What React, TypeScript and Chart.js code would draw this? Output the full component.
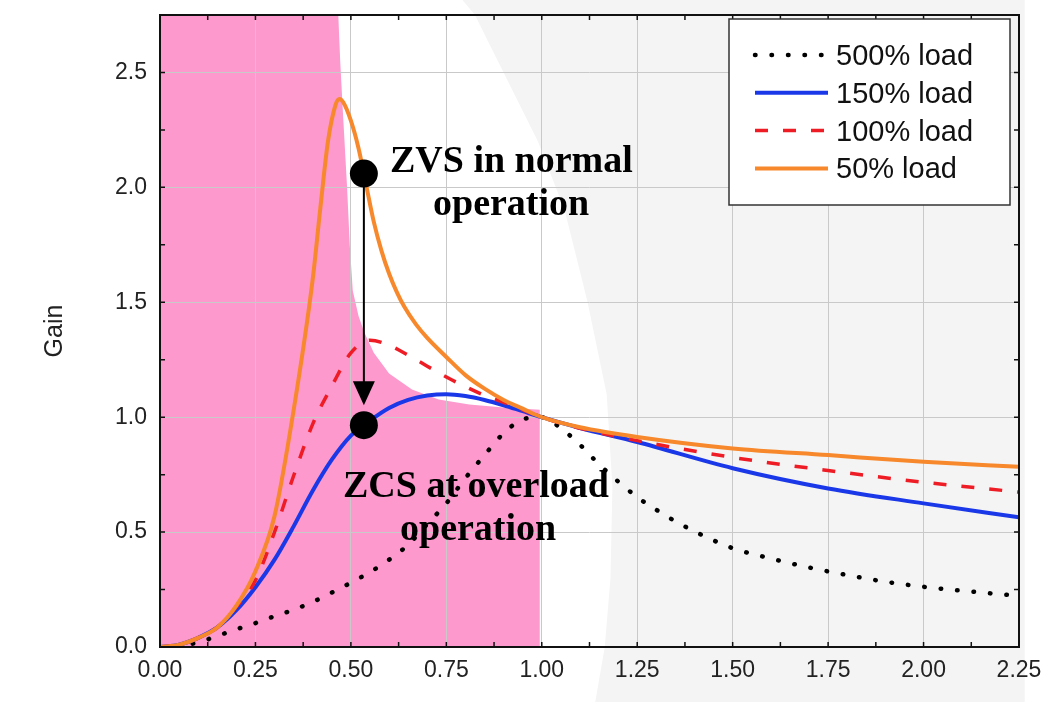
import React, { useEffect, useRef } from 'react';
import { Chart, registerables } from 'chart.js';

Chart.register(...registerables);

// ---- Data ----
// 500% load (black dotted)
const freq500 = [0, 0.05, 0.1, 0.15, 0.2, 0.25, 0.3, 0.35, 0.4, 0.45, 0.5, 0.55, 0.6, 0.65, 0.7, 0.75, 0.8, 0.85, 0.9, 0.95, 1.0, 1.05, 1.1, 1.15, 1.2, 1.25, 1.3, 1.35, 1.4, 1.5, 1.6, 1.7, 1.8, 1.9, 2.0, 2.1, 2.25];
const gain500 = [0, 0.005, 0.02, 0.048, 0.077, 0.104, 0.134, 0.162, 0.196, 0.237, 0.28, 0.326, 0.38, 0.445, 0.535, 0.625, 0.735, 0.835, 0.93, 0.99, 1.0, 0.952, 0.88, 0.795, 0.72, 0.652, 0.597, 0.547, 0.503, 0.43, 0.385, 0.346, 0.313, 0.284, 0.262, 0.245, 0.222];

// 150% load (blue solid)
const freq150 = [0, 0.05, 0.1, 0.15, 0.2, 0.25, 0.3, 0.35, 0.4, 0.45, 0.5, 0.55, 0.6, 0.65, 0.7, 0.75, 0.8, 0.85, 0.9, 0.95, 1.0, 1.1, 1.25, 1.5, 1.75, 2.0, 2.25];
const gain150 = [0, 0.01, 0.04, 0.085, 0.16, 0.26, 0.38, 0.525, 0.68, 0.815, 0.92, 0.985, 1.04, 1.075, 1.094, 1.1, 1.092, 1.075, 1.052, 1.026, 1.0, 0.953, 0.892, 0.778, 0.69, 0.625, 0.564];

// 100% load (red dashed)
const freq100 = [0, 0.05, 0.1, 0.15, 0.2, 0.25, 0.3, 0.35, 0.4, 0.45, 0.5, 0.55, 0.6, 0.65, 0.7, 0.75, 0.8, 0.85, 0.9, 0.95, 1.0, 1.1, 1.25, 1.5, 1.75, 2.0, 2.25];
const gain100 = [0, 0.01, 0.04, 0.085, 0.175, 0.29, 0.5, 0.745, 0.97, 1.135, 1.28, 1.335, 1.313, 1.27, 1.222, 1.175, 1.133, 1.095, 1.065, 1.032, 1.0, 0.952, 0.898, 0.825, 0.768, 0.717, 0.674];

// 50% load (orange solid)
const freq50 = [0, 0.05, 0.1, 0.15, 0.2, 0.25, 0.3, 0.35, 0.4, 0.42, 0.44, 0.46, 0.47, 0.48, 0.5, 0.52, 0.54, 0.56, 0.58, 0.6, 0.62, 0.64, 0.67, 0.7, 0.75, 0.8, 0.85, 0.9, 0.95, 1.0, 1.1, 1.25, 1.5, 1.75, 2.0, 2.25];
const gain50 = [0, 0.01, 0.04, 0.085, 0.18, 0.33, 0.57, 1.03, 1.6, 1.91, 2.2, 2.36, 2.385, 2.37, 2.29, 2.17, 2.01, 1.85, 1.725, 1.625, 1.545, 1.48, 1.405, 1.345, 1.262, 1.183, 1.124, 1.075, 1.037, 1.0, 0.956, 0.914, 0.864, 0.835, 0.806, 0.784];

// Pink region (ZCS region) boundary
const pinkX = [0, 0.467, 0.472, 0.48, 0.49, 0.497, 0.505, 0.52, 0.535, 0.56, 0.6, 0.66, 0.73, 0.81, 0.9, 0.995, 0.995];
const pinkY = [2.75, 2.75, 2.55, 2.3, 2.0, 1.75, 1.55, 1.44, 1.37, 1.28, 1.19, 1.12, 1.077, 1.055, 1.042, 1.032, 0];

// Light grey background region (scan shading), extends past the plot frame
const greyX = [0.79, 0.825, 0.9, 0.99, 1.06, 1.12, 1.17, 1.185, 1.18, 1.165, 1.14, 2.265, 2.265];
const greyY = [2.82, 2.75, 2.5, 2.2, 1.9, 1.5, 1.1, 0.7, 0.3, 0, -0.24, -0.24, 2.82];

// Annotation markers
const markerX = [0.534, 0.534];
const markerY = [2.06, 0.965];
const arrowX = [0.534, 0.534];
const arrowY = [2.06, 1.052];

const seriesLabels = ['500% load', '150% load', '100% load', '50% load'];
const annotationLines = [
  { text: 'ZVS in normal', dx: 230, y: 172 },
  { text: 'operation', dx: 273, y: 215 },
  { text: 'ZCS at overload', dx: 183, y: 497 },
  { text: 'operation', dx: 240, y: 540 },
];

const pts = (xs: number[], ys: number[]) => xs.map((x, i) => ({ x, y: ys[i] }));

const SANS = '"Liberation Sans", Arial, sans-serif';
const SERIF = '"Liberation Serif", "Times New Roman", serif';

const backgroundPlugin = {
  id: 'greyShade',
  beforeDraw(chart: any) {
    const { ctx, scales } = chart;
    const x = scales.x;
    const y = scales.y;
    ctx.save();
    ctx.fillStyle = '#f4f4f4';
    ctx.beginPath();
    greyX.forEach((v, i) => {
      const px = x.getPixelForValue(v);
      const py = y.getPixelForValue(greyY[i]);
      if (i === 0) ctx.moveTo(px, py);
      else ctx.lineTo(px, py);
    });
    ctx.closePath();
    ctx.fill();
    ctx.restore();
  },
};

const decorPlugin = {
  id: 'decor',
  afterDatasetsDraw(chart: any) {
    const { ctx, chartArea: a, scales } = chart;
    const x = scales.x;
    const y = scales.y;
    ctx.save();

    // arrow
    const ax = x.getPixelForValue(arrowX[0]);
    const ay0 = y.getPixelForValue(arrowY[0]);
    const ay1 = y.getPixelForValue(arrowY[1]);
    ctx.strokeStyle = '#000';
    ctx.lineWidth = 2;
    ctx.beginPath();
    ctx.moveTo(ax, ay0);
    ctx.lineTo(ax, ay1 - 18);
    ctx.stroke();
    ctx.fillStyle = '#000';
    ctx.beginPath();
    ctx.moveTo(ax, ay1);
    ctx.lineTo(ax - 11, ay1 - 24);
    ctx.lineTo(ax + 11, ay1 - 24);
    ctx.closePath();
    ctx.fill();

    // annotation texts
    ctx.font = 'bold 38px ' + SERIF;
    ctx.textAlign = 'left';
    ctx.textBaseline = 'alphabetic';
    ctx.fillStyle = '#000';
    annotationLines.forEach((l) => ctx.fillText(l.text, a.left + l.dx, l.y));

    // frame
    ctx.strokeStyle = '#111';
    ctx.lineWidth = 2;
    ctx.strokeRect(a.left, a.top, a.right - a.left, a.bottom - a.top);

    // inward minor ticks
    ctx.lineWidth = 1.5;
    ctx.beginPath();
    for (let v = 0; v <= 2.25 + 1e-9; v += 0.125) {
      const px = x.getPixelForValue(v);
      ctx.moveTo(px, a.bottom);
      ctx.lineTo(px, a.bottom - 5);
      ctx.moveTo(px, a.top);
      ctx.lineTo(px, a.top + 5);
    }
    for (let v = 0; v <= 2.75 + 1e-9; v += 0.25) {
      const py = y.getPixelForValue(v);
      ctx.moveTo(a.left, py);
      ctx.lineTo(a.left + 5, py);
      ctx.moveTo(a.right, py);
      ctx.lineTo(a.right - 5, py);
    }
    ctx.stroke();

    // legend
    const lx = a.left + 569;
    const ly = 19;
    const lw = 281;
    const lh = 186;
    ctx.fillStyle = '#fff';
    ctx.fillRect(lx, ly, lw, lh);
    ctx.strokeStyle = '#333';
    ctx.lineWidth = 1.5;
    ctx.strokeRect(lx, ly, lw, lh);
    ctx.font = '29px ' + SANS;
    for (let i = 0; i < 4; i++) {
      const ds = chart.data.datasets[i];
      const base = 65 + i * 37.8;
      const lineY = base - 10;
      ctx.save();
      ctx.strokeStyle = ds.borderColor;
      ctx.lineWidth = ds.borderWidth;
      ctx.lineCap = ds.borderCapStyle || 'butt';
      ctx.setLineDash(ds.borderDash || []);
      ctx.beginPath();
      ctx.moveTo(lx + 26, lineY);
      ctx.lineTo(lx + 99, lineY);
      ctx.stroke();
      ctx.restore();
      ctx.fillStyle = '#111';
      ctx.textBaseline = 'alphabetic';
      ctx.fillText(ds.label, lx + 107, base);
    }
    ctx.restore();
  },
};

export default function App() {
  const ref = useRef<HTMLCanvasElement>(null);

  useEffect(() => {
    const canvas = ref.current;
    if (!canvas) return;
    const curve = {
      pointRadius: 0,
      fill: false,
      cubicInterpolationMode: 'monotone' as const,
    };
    const chart = new Chart(canvas, {
      type: 'line',
      data: {
        datasets: [
          {
            ...curve,
            label: seriesLabels[0],
            data: pts(freq500, gain500),
            borderColor: '#000',
            borderWidth: 4.5,
            borderDash: [0.5, 16],
            borderCapStyle: 'round',
            order: 4,
          },
          {
            ...curve,
            label: seriesLabels[1],
            data: pts(freq150, gain150),
            borderColor: '#1a38e8',
            borderWidth: 4,
            order: 3,
          },
          {
            ...curve,
            label: seriesLabels[2],
            data: pts(freq100, gain100),
            borderColor: '#ee1c25',
            borderWidth: 3.5,
            borderDash: [13, 15],
            order: 2,
          },
          {
            ...curve,
            label: seriesLabels[3],
            data: pts(freq50, gain50),
            borderColor: '#f7882b',
            borderWidth: 4,
            order: 1,
          },
          {
            label: 'markers',
            data: pts(markerX, markerY),
            showLine: false,
            pointRadius: 14,
            pointBackgroundColor: '#000',
            pointBorderColor: '#000',
            pointBorderWidth: 0,
            order: 0,
          },
          {
            label: 'zcs region',
            data: pts(pinkX, pinkY),
            borderWidth: 0,
            borderColor: 'rgba(0,0,0,0)',
            pointRadius: 0,
            backgroundColor: '#fd99cc',
            fill: 'origin',
            tension: 0,
            order: 10,
          },
        ] as any,
      },
      options: {
        animation: false,
        responsive: false,
        devicePixelRatio: 1,
        events: [],
        layout: { padding: { left: 0, top: 15, right: 38, bottom: 0 } },
        plugins: {
          legend: { display: false },
          tooltip: { enabled: false },
          filler: { drawTime: 'beforeDraw' } as any,
        },
        scales: {
          x: {
            type: 'linear',
            min: 0,
            max: 2.25,
            afterFit: (s: any) => {
              s.height = 55;
              s.paddingLeft = 0;
              s.paddingRight = 0;
              s.paddingTop = 0;
              s.paddingBottom = 0;
            },
            border: { display: false },
            grid: { color: '#c9c9c9', lineWidth: 1, drawTicks: false },
            ticks: {
              stepSize: 0.25,
              padding: 10,
              maxRotation: 0,
              autoSkip: false,
              color: '#222',
              font: { family: SANS, size: 23 },
              callback: (v: any) => Number(v).toFixed(2),
            },
          },
          y: {
            type: 'linear',
            min: 0,
            max: 2.75,
            afterFit: (s: any) => {
              s.width = 160;
              s.paddingLeft = 0;
              s.paddingRight = 0;
              s.paddingTop = 0;
              s.paddingBottom = 0;
            },
            border: { display: false },
            grid: { color: '#c9c9c9', lineWidth: 1, drawTicks: false },
            ticks: {
              stepSize: 0.5,
              includeBounds: false,
              padding: 13,
              color: '#222',
              font: { family: SANS, size: 23 },
              callback: (v: any) => Number(v).toFixed(1),
            },
            title: {
              display: true,
              text: 'Gain',
              color: '#222',
              font: { family: SANS, size: 25 },
              padding: { top: 40, bottom: 0 },
            },
          },
        },
      },
      plugins: [backgroundPlugin, decorPlugin],
    });
    return () => chart.destroy();
  }, []);

  return (
    <div style={{ position: 'fixed', left: 0, top: 0, width: 1057, height: 702, background: '#fff' }}>
      <canvas ref={ref} width={1057} height={702} style={{ width: 1057, height: 702, display: 'block' }} />
    </div>
  );
}
